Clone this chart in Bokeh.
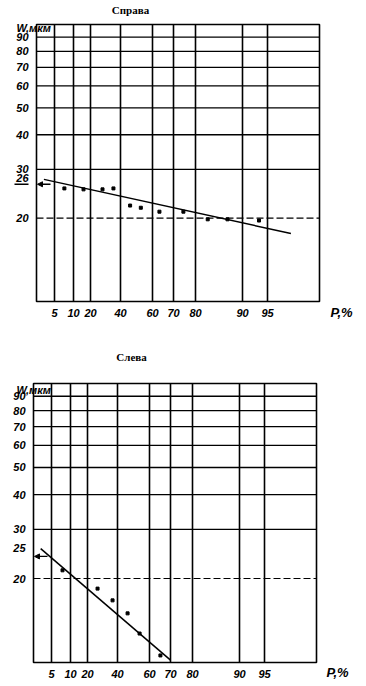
import numpy as np
from bokeh.plotting import figure
from bokeh.layouts import column
from bokeh.models import Arrow, NormalHead
from bokeh.core.properties import value
from bokeh.embed import file_html
from bokeh.resources import INLINE

# ---- data ----
P_TICKS = [5, 10, 20, 40, 60, 70, 80, 90, 95]
W_GRID = [20, 30, 40, 50, 60, 70, 80, 90]
W_MIN, W_MAX = 10, 100

TOP_TITLE = "Справа"
TOP_P = [7.6, 15.9, 28, 35.3, 46, 52.7, 63.3, 74.5, 82.6, 86.8, 93.3]
TOP_W = [25.6, 25.4, 25.4, 25.6, 22.2, 21.8, 21.1, 21.1, 19.8, 19.8, 19.6]
TOP_LINE_P = [2.65, 96.8]
TOP_LINE_W = [27.6, 17.6]
TOP_MARK_W = 26.5
TOP_MARK_LABEL = "26"

BOT_TITLE = "Слева"
BOT_P = [7.9, 26.7, 36.7, 46.3, 53.8, 65.2]
BOT_W = [21.4, 18.4, 16.7, 15.0, 12.7, 10.6]
BOT_LINE_P = [2.6, 70]
BOT_LINE_W = [25.6, 10.2]
BOT_MARK_W = 24.0
BOT_MARK_LABEL = "25"

# ---- hand-drawn probability scale of the paper (layout) ----
SCALE_P = [1, 5, 10, 20, 40, 60, 70, 80, 90, 95, 99]
SCALE_POS = [0, 18, 37, 54, 84, 116, 137, 159, 206, 231, 283]


def ppos(p):
    return np.interp(p, SCALE_P, SCALE_POS)


TICK_POS = [float(ppos(p)) for p in P_TICKS]
BOX_W = SCALE_POS[-1]
FIG_W = 366

NUM_FONT = value("Liberation Sans")
TITLE_FONT = value("Liberation Serif")


def make_panel(title, pts_p, pts_w, line_p, line_w, mark_w, mark_label,
               height, left, top, bottom_px, title_x, title_dy,
               wlab_x, wlab_dy, plab_x, plab_dy, xlab_dy, underline, mark_dy):
    ppd = bottom_px - top  # pixels per decade (box spans one decade)

    def ysh(v, dy):
        return v * 10 ** (dy / ppd)

    y_top = ysh(W_MAX, top)
    y_bot = ysh(W_MIN, -(height - bottom_px))
    p = figure(width=FIG_W, height=height, x_range=(-left, FIG_W - left),
               y_range=(y_bot, y_top), y_axis_type="log",
               output_backend="svg", toolbar_location=None,
               min_border=0, min_border_left=0, min_border_right=0,
               min_border_top=0, min_border_bottom=0)
    p.axis.visible = False
    p.grid.visible = False
    p.outline_line_color = None
    p.background_fill_color = "white"
    p.border_fill_color = "white"

    # grid of the paper
    n = len(TICK_POS)
    p.segment(x0=TICK_POS, y0=[W_MIN] * n, x1=TICK_POS, y1=[W_MAX] * n,
              line_color="black", line_width=1.6)
    solid = W_GRID[1:]
    m = len(solid)
    p.segment(x0=[0] * m, y0=solid, x1=[BOX_W] * m, y1=solid,
              line_color="black", line_width=1.3)
    p.segment(x0=[0], y0=W_GRID[:1], x1=[BOX_W], y1=W_GRID[:1],
              line_color="black", line_width=1.1, line_dash="7 3")
    p.quad(left=[0], right=[BOX_W], bottom=[W_MIN], top=[W_MAX],
           fill_color=None, line_color="black", line_width=1.6)

    # tick labels
    p.text(x=TICK_POS, y=[ysh(W_MIN, -xlab_dy)] * n, text=[str(v) for v in P_TICKS],
           text_font=NUM_FONT, text_font_style="bold italic",
           text_font_size=value("11px"), text_color="black",
           text_align="center", text_baseline="middle")
    ylabs = W_GRID
    p.text(x=[-8] * len(ylabs), y=ylabs, text=[str(v) for v in ylabs],
           text_font=NUM_FONT, text_font_style="bold italic",
           text_font_size=value("11px"), text_color="black",
           text_align="right", text_baseline="middle")
    p.text(x=[-8], y=[ysh(mark_w, mark_dy)], text=[mark_label],
           text_font=NUM_FONT, text_font_style="bold italic",
           text_font_size=value("11px"), text_color="black",
           text_align="right", text_baseline="middle")
    if underline:
        p.segment(x0=[-22], y0=[mark_w], x1=[-8], y1=[mark_w],
                  line_color="black", line_width=1.3)

    # fitted line and points
    p.line(ppos(np.array(line_p)), line_w, line_color="black", line_width=1.5)
    p.scatter(ppos(np.array(pts_p)), pts_w, marker="square", size=3,
              fill_color="black", line_color="black")

    # arrow to the axis
    p.add_layout(Arrow(end=NormalHead(size=5, fill_color="black", line_color="black"),
                       x_start=14, y_start=mark_w, x_end=1, y_end=mark_w,
                       line_color="black", line_width=1.3))

    # texts
    p.text(x=[title_x], y=[ysh(W_MAX, title_dy)], text=[title],
           text_font=TITLE_FONT, text_font_style="bold",
           text_font_size=value("11px"), text_color="black",
           text_align="center", text_baseline="middle")
    p.text(x=[wlab_x], y=[ysh(W_MAX, wlab_dy)], text=["W,мкм"],
           text_font=NUM_FONT, text_font_style="bold italic",
           text_font_size=value("11px"), text_color="black",
           text_align="left", text_baseline="middle")
    p.text(x=[plab_x], y=[ysh(W_MIN, plab_dy)], text=["P,%"],
           text_font=NUM_FONT, text_font_style="bold italic",
           text_font_size=value("13px"), text_color="black",
           text_align="left", text_baseline="middle")
    return p


p1 = make_panel(TOP_TITLE, TOP_P, TOP_W, TOP_LINE_P, TOP_LINE_W, TOP_MARK_W, TOP_MARK_LABEL,
                height=340, left=36, top=24, bottom_px=301,
                title_x=94, title_dy=15, wlab_x=-20, wlab_dy=-3,
                plab_x=294, plab_dy=-11, xlab_dy=11, underline=True, mark_dy=6)
p2 = make_panel(BOT_TITLE, BOT_P, BOT_W, BOT_LINE_P, BOT_LINE_W, BOT_MARK_W, BOT_MARK_LABEL,
                height=346, left=33, top=43, bottom_px=322,
                title_x=98, title_dy=27, wlab_x=-17, wlab_dy=-6,
                plab_x=293, plab_dy=-10, xlab_dy=11, underline=False, mark_dy=8)

layout = column(p1, p2, spacing=0)
open("out.html", "w").write(file_html(layout, INLINE))
